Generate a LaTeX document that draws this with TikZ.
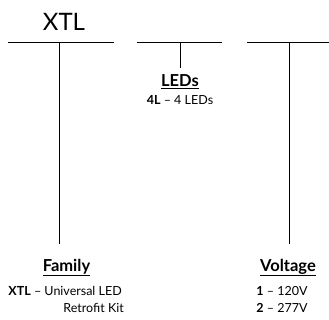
\documentclass[tikz,border=0pt]{standalone}
\usepackage{fontspec}
\setmainfont{Lato}
\begin{document}
\begin{tikzpicture}[x=1pt,y=-1pt,line width=0.9pt,
    head/.style={font=\fontsize{16.5}{18}\selectfont\bfseries,inner sep=0pt,anchor=base},
    body/.style={font=\fontsize{12.5}{14}\selectfont,inner sep=0pt,anchor=base west}]
    \useasboundingbox (0,0) rectangle (329,320);

    % bars
    \coordinate (F1) at (8,42.5);
    \coordinate (F2) at (114,42.5);
    \coordinate (L1) at (137,42.5);
    \coordinate (L2) at (222,42.5);
    \coordinate (V1) at (247,42.5);
    \coordinate (V2) at (329,42.5);
    \coordinate (Ftop) at (59.5,42.5);
    \coordinate (Ltop) at (180,42.5);
    \coordinate (Vtop) at (289,42.5);
    \coordinate (Fend) at (59.5,244);
    \coordinate (Lend) at (180,68);
    \coordinate (Vend) at (289,244);

    \draw (F1) -- (F2);
    \draw (L1) -- (L2);
    \draw (V1) -- (V2);
    \draw (Ftop) -- (Fend);
    \draw (Ltop) -- (Lend);
    \draw (Vtop) -- (Vend);

    \node[font=\fontsize{24}{26}\selectfont,inner sep=0pt,anchor=base] (xtl) at (64,31) {XTL};

    \node[head] (leds) at (180,87) {\underline{LEDs}};
    \node[body,anchor=base] (ledsopt) at (180,105) {\textbf{4L} -- 4 LEDs};

    \node[head] (family) at (66.5,271) {\underline{Family}};
    \node[body] (famopt) at (8,295) {\textbf{XTL} -- Universal LED};
    \node[body] (famopt2) at (63,312) {Retrofit Kit};

    \node[head] (volt) at (288,271) {\underline{Voltage}};
    \node[body] (voltopt1) at (256,295) {\textbf{1} -- 120V};
    \node[body] (voltopt2) at (256,312) {\textbf{2} -- 277V};
\end{tikzpicture}
\end{document}
